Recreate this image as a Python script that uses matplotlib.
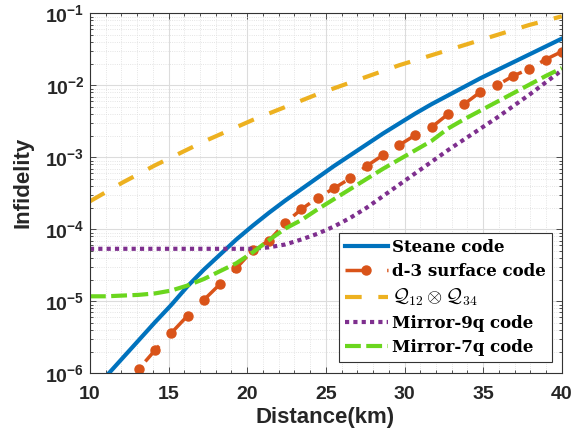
import numpy as np
import matplotlib
matplotlib.use("Agg")
import matplotlib.pyplot as plt
from matplotlib.ticker import LogLocator, MultipleLocator, NullFormatter

plt.rcParams['font.family'] = ['Liberation Sans', 'DejaVu Sans']
plt.rcParams['font.weight'] = 'bold'

# distance grid (km), 30 samples between 10 and 40
distance = np.linspace(10, 40, 30)

# log10(infidelity) at each distance
steane = [-6.30, -6.04, -5.79, -5.54, -5.29, -5.05, -4.79, -4.56, -4.35, -4.14,
          -3.95, -3.77, -3.60, -3.44, -3.28, -3.12, -2.97, -2.82, -2.67, -2.53,
          -2.39, -2.26, -2.14, -2.02, -1.90, -1.79, -1.68, -1.57, -1.46, -1.35]
surface_d3 = [-6.70, -6.45, -6.20, -5.94, -5.68, -5.44, -5.20, -4.98, -4.76, -4.54,
              -4.29, -4.16, -3.91, -3.72, -3.56, -3.43, -3.29, -3.12, -2.97, -2.83,
              -2.69, -2.58, -2.40, -2.26, -2.09, -2.00, -1.87, -1.77, -1.64, -1.53]
q12_q34 = [-3.61, -3.48, -3.35, -3.23, -3.11, -3.00, -2.89, -2.78, -2.68, -2.58,
           -2.48, -2.39, -2.30, -2.21, -2.12, -2.04, -1.96, -1.88, -1.80, -1.72,
           -1.65, -1.58, -1.51, -1.44, -1.37, -1.30, -1.23, -1.16, -1.10, -1.04]
mirror_9q = [-4.27, -4.27, -4.27, -4.27, -4.27, -4.27, -4.27, -4.27, -4.27, -4.27,
             -4.27, -4.25, -4.21, -4.14, -4.06, -3.96, -3.84, -3.70, -3.54, -3.38,
             -3.22, -3.06, -2.90, -2.75, -2.60, -2.45, -2.29, -2.13, -1.96, -1.79]
mirror_7q = [-4.93, -4.93, -4.92, -4.91, -4.89, -4.85, -4.78, -4.69, -4.58, -4.47,
             -4.32, -4.15, -3.99, -3.87, -3.72, -3.58, -3.44, -3.30, -3.16, -3.03,
             -2.90, -2.77, -2.60, -2.47, -2.35, -2.23, -2.11, -1.99, -1.87, -1.76]

labels = ['Steane code', 'd-3 surface code', r'$\mathcal{Q}_{12}\otimes\mathcal{Q}_{34}$',
          'Mirror-9q code', 'Mirror-7q code']

fig = plt.figure(figsize=(5.84, 4.41), dpi=100)
ax = fig.add_axes([0.154, 0.1535, 0.808, 0.816])

ax.plot(distance, 10 ** np.array(steane), color='#0072BD', lw=3, label=labels[0])
ax.plot(distance, 10 ** np.array(surface_d3), color='#D95319', lw=2.5,
        linestyle=(0, (6, 6)), marker='o', markersize=6.5, label=labels[1])
ax.plot(distance, 10 ** np.array(q12_q34), color='#EDB120', lw=3,
        linestyle=(0, (4, 4)), label=labels[2])
ax.plot(distance, 10 ** np.array(mirror_9q), color='#7E2F8E', lw=3,
        linestyle=(0, (1, 1)), dash_capstyle='butt', label=labels[3])
ax.plot(distance, 10 ** np.array(mirror_7q), color='#6BD61E', lw=3,
        linestyle=(0, (3.8, 1.3)), label=labels[4])

ax.set_yscale('log')
ax.set_xlim(10, 40)
ax.set_ylim(1e-6, 1e-1)
ax.xaxis.set_major_locator(MultipleLocator(5))
ax.xaxis.set_minor_locator(MultipleLocator(1))
ax.yaxis.set_major_locator(LogLocator(base=10, numticks=10))
ax.yaxis.set_minor_locator(LogLocator(base=10, subs=np.arange(2, 10), numticks=20))
ax.yaxis.set_minor_formatter(NullFormatter())

ax.grid(which='major', color='#dcdcdc', lw=0.8)
ax.grid(which='minor', color='#dcdcdc', lw=0.6, linestyle=':')
ax.set_axisbelow(True)
ax.tick_params(which='both', direction='in', top=True, right=True,
               labelsize=14, width=0.6, color='#333333', labelcolor='#262626')
ax.tick_params(which='major', length=4)
ax.tick_params(which='minor', length=2)
ax.tick_params(axis='x', pad=9)
ax.tick_params(axis='y', pad=4)
for lbl in ax.get_xticklabels() + ax.get_yticklabels():
    lbl.set_fontweight('bold')
for sp in ax.spines.values():
    sp.set_color('#333333')
    sp.set_linewidth(0.8)

ax.set_xlabel('Distance(km)', fontsize=16, fontweight='bold', color='#262626')
ax.set_ylabel('Infidelity', fontsize=16, fontweight='bold', color='#262626')
ax.xaxis.set_label_coords(0.498, -0.094)
ax.yaxis.set_label_coords(-0.119, 0.53)

leg = ax.legend(loc='lower right', bbox_to_anchor=(0.979, 0.031),
                prop=dict(family='DejaVu Serif', weight='bold', size=12),
                handlelength=2.6, handletextpad=0.25, labelspacing=0.42,
                borderpad=0.35, borderaxespad=0, fancybox=False, framealpha=1,
                edgecolor='#333333')
leg.get_frame().set_linewidth(0.8)
q_text = leg.get_texts()[2]
q_text.set_math_fontfamily('cm')
q_text.set_fontsize(14)

fig.savefig('out.png', dpi=100)
